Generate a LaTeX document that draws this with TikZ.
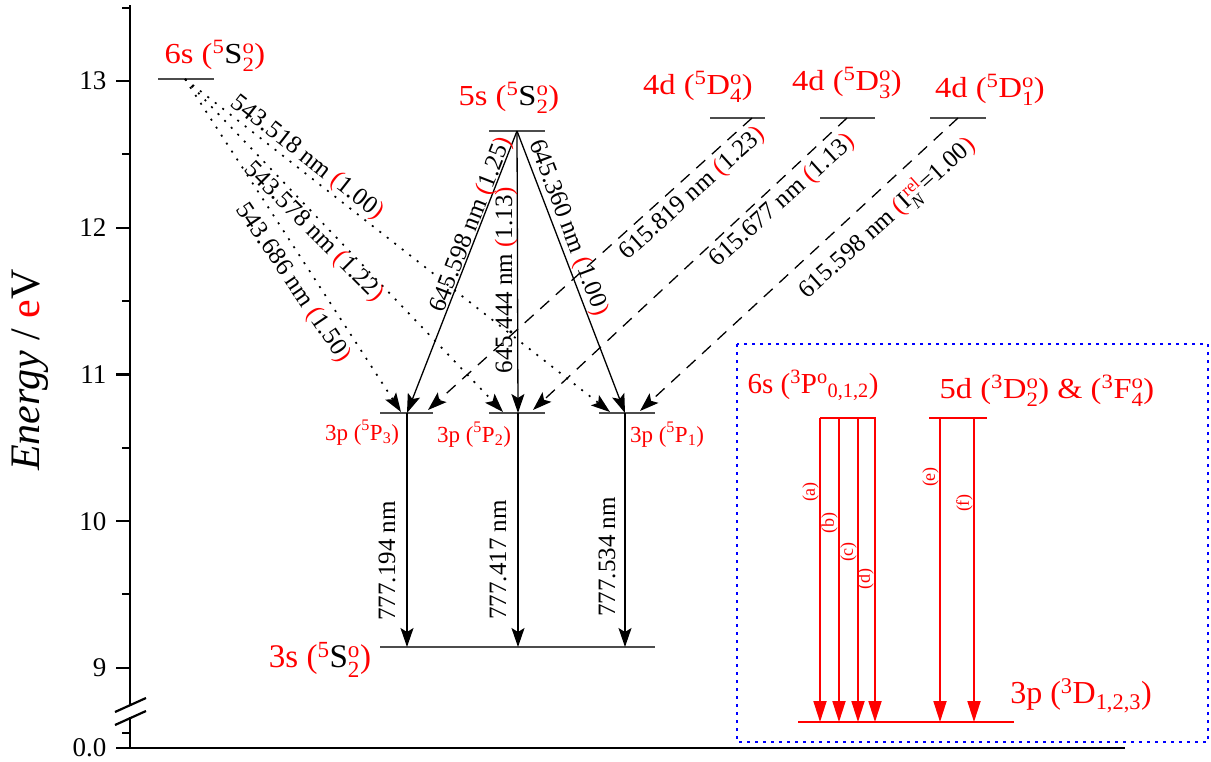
\documentclass[tikz,border=0pt]{standalone}
\usepackage{amsmath}
\usepackage{fontspec}
\setmainfont{Liberation Serif}
\usetikzlibrary{arrows.meta}

\newcommand{\rd}[1]{\textcolor{red}{#1}}
\newcommand{\fsz}[1]{\fontsize{#1}{#1}\selectfont}
\newcommand{\wide}[1]{\scalebox{1.12}[1]{#1}}
% term with black letter: (^aX^b_c)
\newcommand{\trm}[4]{\rd{(}${}^{\text{\rd{#1}}}$#2$^{\text{\rd{#3}}}_{\text{\rd{#4}}}$\rd{)}}
% all red term
\newcommand{\rtrm}[4]{(${}^{\text{#1}}$#2$^{\text{#3}}_{\text{#4}}$)}

\tikzset{
  axis/.style={line width=2.2pt},
  lvl/.style={black!70, line width=1.3pt},
  rlvl/.style={red, line width=2.6pt},
  tr/.style={line width=1.3pt, -{Stealth[length=19pt,width=13pt,inset=4pt]}},
  dotl/.style={tr, line width=1.7pt, dash pattern=on 2pt off 7.5pt},
  dashl/.style={tr, dash pattern=on 12pt off 9pt},
  rtr/.style={red, line width=1.8pt, -{Triangle[length=21pt,width=13pt]}},
  ticklab/.style={font=\fsz{27}, anchor=east},
  wl/.style={font=\fsz{25}},
  big/.style={font=\fsz{29}, anchor=base},
  mid/.style={font=\fsz{23}, red, anchor=base},
  tag/.style={font=\fsz{18}, red, rotate=90}
}

\begin{document}
\begin{tikzpicture}[x=1pt,y=-1pt]
  \useasboundingbox (0,0) rectangle (1211,761);

  % axes
  \draw[axis] (130,5) -- (130,705);
  \draw[axis] (130,717) -- (130,748);
  \draw[axis] (115,712) -- (146,698);
  \draw[axis] (115,725) -- (146,711);
  \draw[axis] (116,748) -- (1125,748);
  \foreach \lab [count=\i from 0] in {13,12,11,10,9}
  {
    \draw[axis] (116,{81+\i*146.75}) -- (130,{81+\i*146.75});
    \node[ticklab] (t\lab) at (110,{81+\i*146.75}) {\lab};
  }
  \foreach \py in {7.6,154,301,448,594,733}
    \draw[axis] (122,\py) -- (130,\py);
  \node[ticklab] (t0) at (110,748) {0.0};
  \node[rotate=90, font=\fsz{42}] (ylab) at (30,370) {\textit{Energy} / \rd{e}V};

  % levels
  \draw[lvl] (158,79) -- (214,79);
  \draw[lvl] (489,131) -- (545,131);
  \draw[lvl] (710,118) -- (765,118);
  \draw[lvl] (820,118) -- (875,118);
  \draw[lvl] (930,118) -- (986,118);
  \draw[lvl] (380,413) -- (433,413);
  \draw[lvl] (489,413) -- (545,413);
  \draw[lvl] (599,413) -- (655,413);
  \draw[lvl] (380,647) -- (655,647);

  \node[big] (l6s) at (215,63) {\wide{\rd{6s} \trm{5}{S}{o}{2}}};
  \node[big] (l5s) at (509,105) {\wide{\rd{5s} \trm{5}{S}{o}{2}}};
  \node[big, red] (l4d4) at (698,94) {\wide{4d \rtrm{5}{D}{o}{4}}};
  \node[big, red] (l4d3) at (847,90) {\wide{4d \rtrm{5}{D}{o}{3}}};
  \node[big, red] (l4d1) at (990,97) {\wide{4d \rtrm{5}{D}{o}{1}}};
  \node[mid] (l3p3) at (362,440) {3p (${}^{\text{5}}$P$_{\text{3}}$)};
  \node[mid] (l3p2) at (474,442) {3p (${}^{\text{5}}$P$_{\text{2}}$)};
  \node[mid] (l3p1) at (667,442) {3p (${}^{\text{5}}$P$_{\text{1}}$)};
  \node[big, font=\fsz{33}] (l3s) at (320,667) {\rd{3s} \trm{5}{S}{o}{2}};

  % end points
  \coordinate (s6) at (185,79);
  \coordinate (s5) at (517,131);
  \coordinate (d4) at (752,118);
  \coordinate (d3) at (847,118);
  \coordinate (d1) at (958,118);
  \coordinate (p3dot) at (401,412);
  \coordinate (p3) at (407,413);
  \coordinate (p3dash) at (428,410);
  \coordinate (p2dot) at (503,412);
  \coordinate (p2) at (518,413);
  \coordinate (p2dash) at (533,410);
  \coordinate (p1dot) at (610,412);
  \coordinate (p1) at (625,413);
  \coordinate (p1dash) at (640,411);
  \coordinate (g3) at (407,647);
  \coordinate (g2) at (518,647);
  \coordinate (g1) at (625,647);

  % 6s -> 3p
  \draw[dotl] (s6) -- (p1dot);
  \draw[dotl] (s6) -- (p2dot);
  \draw[dotl] (s6) -- (p3dot);
  \node[wl, rotate=-38] (w518) at (307,158) {543.518 nm \rd{(}1.00\rd{)}};
  \node[wl, rotate=-45] (w578) at (314,232) {543.578 nm \rd{(}1.22\rd{)}};
  \node[wl, rotate=-56] (w686) at (293,283) {543.686 nm \rd{(}1.50\rd{)}};

  % 5s -> 3p
  \draw[tr] (s5) -- (p3);
  \draw[tr] (s5) -- (p2);
  \draw[tr] (s5) -- (p1);
  \node[wl, rotate=68.7] (w598) at (472,225) {645.598 nm \rd{(}1.25\rd{)}};
  \node[wl, rotate=90] (w444) at (506,280) {645.444 nm \rd{(}1.13\rd{)}};
  \node[wl, rotate=-69] (w360) at (568,228) {645.360 nm \rd{(}1.00\rd{)}};

  % 4d -> 3p
  \draw[dashl] (d4) -- (p3dash);
  \draw[dashl] (d3) -- (p2dash);
  \draw[dashl] (d1) -- (p1dash);
  \node[wl, rotate=42] (w819) at (693,194) {615.819 nm \rd{(}1.23\rd{)}};
  \node[wl, rotate=42] (w677) at (783,201) {615.677 nm \rd{(}1.13\rd{)}};
  \node[wl, rotate=42] (w598b) at (887,218) {615.598 nm \rd{(}I$^{\text{\rd{rel}}}_{\text{\itshape N}}$=1.00\rd{)}};

  % 3p -> 3s
  \draw[tr] (p3) -- (g3);
  \draw[tr] (p2) -- (g2);
  \draw[tr] (p1) -- (g1);
  \node[wl, rotate=90] (w194) at (387,561) {777.194 nm};
  \node[wl, rotate=90] (w417) at (498,560) {777.417 nm};
  \node[wl, rotate=90] (w534) at (607,557) {777.534 nm};

  % triplet inset
  \draw[blue, line width=1.8pt, dash pattern=on 3pt off 5pt] (737,344) rectangle (1208,742);
  \draw[rlvl] (820,418) -- (876,418);
  \draw[rlvl] (929,418) -- (987,418);
  \draw[rlvl] (798,722) -- (1014,722);
  \node[big, red] (l6sp) at (813,393) {6s (${}^{\text{3}}$P$^{\text{o}}{}_{\text{0,1,2}}$)};
  \node[big, red] (l5d) at (1047,398) {\wide{5d \rtrm{3}{D}{o}{2} \& \rtrm{3}{F}{o}{4}}};
  \node[big, red, font=\fsz{32}] (l3pd) at (1081,703) {3p (${}^{\text{3}}$D$_{\text{1,2,3}}$)};
  \foreach \x/\l/\ly in {820/a/492,839/b/523,858/c/552,875/d/579,940/e/477,974/f/503}
  {
    \coordinate (u\l) at (\x,418);
    \coordinate (v\l) at (\x,722);
    \draw[rtr] (u\l) -- (v\l);
    \node[tag] (tag\l) at (\x-9.5,\ly) {(\l)};
  }
\end{tikzpicture}
\end{document}
